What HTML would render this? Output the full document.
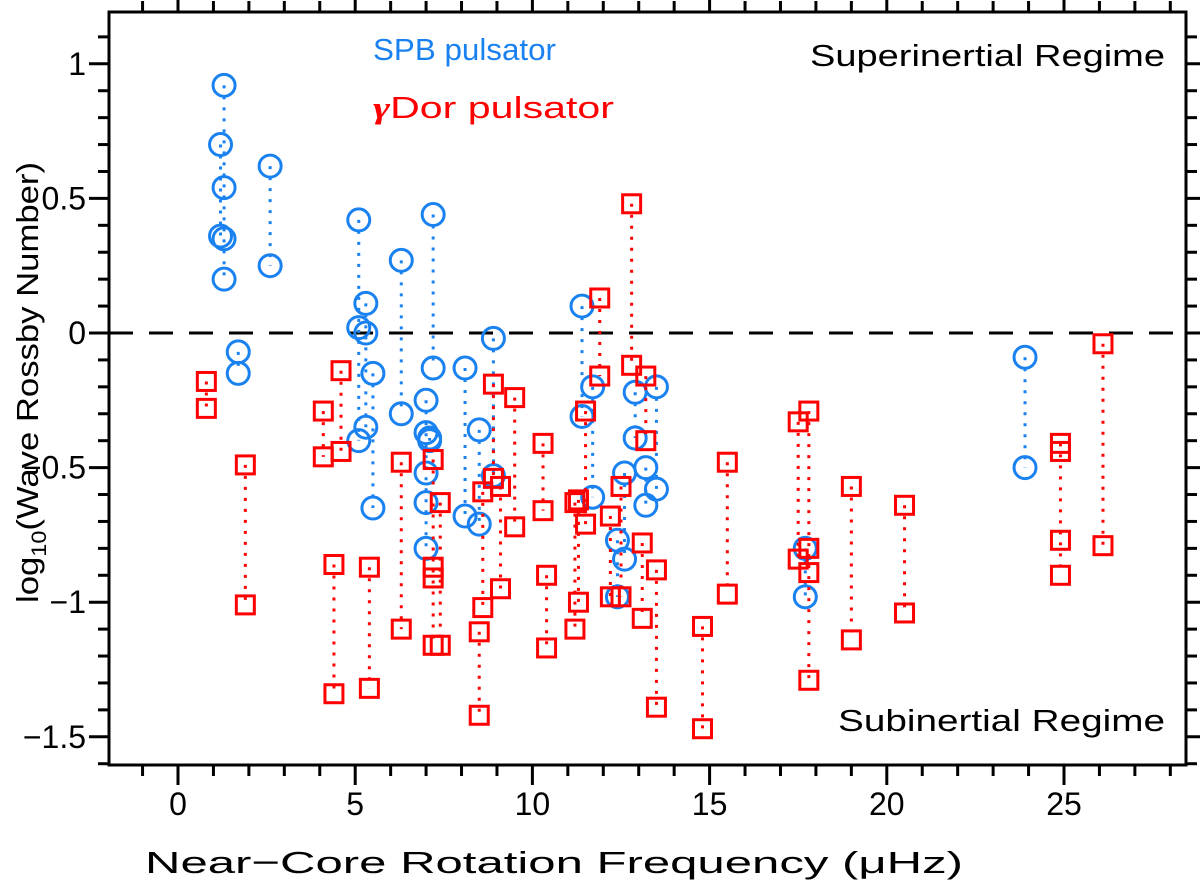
<!DOCTYPE html>
<html><head><meta charset="utf-8">
<style>
html,body{margin:0;padding:0;background:#fff;}
svg{display:block;font-family:"Liberation Sans",sans-serif;}
</style></head>
<body>
<svg id="chart" width="1200" height="891" viewBox="0 0 1200 891" xmlns="http://www.w3.org/2000/svg">
<g id="grid"></g>
<g id="series"></g>
<g id="axes"></g>
<text x="373" y="60" font-size="31" fill="#1a82f0" textLength="183" lengthAdjust="spacingAndGlyphs">SPB pulsator</text>
<text x="373" y="118" font-size="31" fill="#ff0000" textLength="241" lengthAdjust="spacingAndGlyphs"><tspan font-style="italic" font-weight="bold" font-family="Liberation Serif, serif">γ</tspan>Dor pulsator</text>
<text x="1165" y="66" font-size="31" text-anchor="end" fill="#000" textLength="355" lengthAdjust="spacingAndGlyphs">Superinertial Regime</text>
<text x="1165" y="731" font-size="31" text-anchor="end" fill="#000" textLength="327" lengthAdjust="spacingAndGlyphs">Subinertial Regime</text>
<text x="145" y="873" font-size="31" textLength="818" lengthAdjust="spacingAndGlyphs">Near−Core Rotation Frequency (μHz)</text>
<text transform="translate(38,603) rotate(-90)" font-size="31" textLength="441" lengthAdjust="spacingAndGlyphs">log<tspan font-size="21" dy="8">10</tspan><tspan dy="-8">(Wave Rossby Number)</tspan></text>
</svg>
<script>
const spbX = [1.3, 1.2, 2.6, 1.7, 5.1, 5.3, 5.5, 6.3, 7.2, 7.0, 7.1, 8.1, 8.5, 8.9, 11.4, 11.7, 12.9, 13.2, 13.5, 12.6, 12.4, 17.7, 23.9];
const spbY = [[0.92,0.54,0.35,0.20],[0.70,0.36],[0.62,0.25],[-0.07,-0.15],[0.42,0.02,-0.40],[0.11,0.0,-0.35],[-0.15,-0.65],[0.27,-0.30],[0.44,-0.13],[-0.25,-0.37,-0.52,-0.63,-0.80],[-0.39,-0.40],[-0.13,-0.68],[-0.36,-0.71],[-0.02,-0.53],[0.10,-0.31],[-0.20,-0.61],[-0.22,-0.39],[-0.50,-0.64],[-0.20,-0.58],[-0.52,-0.84],[-0.77,-0.98],[-0.80,-0.98],[-0.09,-0.50]];
const gdorX = [0.8, 1.9, 4.1, 4.6, 4.4, 5.4, 6.3, 7.2, 7.4, 8.6, 8.5, 8.9, 9.1, 9.5, 10.3, 10.4, 11.2, 11.3, 11.5, 11.9, 12.2, 12.5, 12.8, 13.1, 13.2, 13.5, 14.8, 15.5, 17.5, 17.8, 19.0, 20.5, 24.9, 26.1];
const gdorY = [[-0.18,-0.28],[-0.49,-1.01],[-0.29,-0.46],[-0.14,-0.44],[-0.86,-1.34],[-0.87,-1.32],[-0.48,-1.10],[-0.47,-0.87,-0.91,-1.16],[-0.63,-1.16],[-0.59,-1.02],[-1.11,-1.42],[-0.19,-0.54],[-0.57,-0.95],[-0.24,-0.72],[-0.41,-0.66],[-0.90,-1.17],[-0.63,-1.10],[-0.62,-1.00],[-0.29,-0.71],[0.13,-0.16],[-0.68,-0.98],[-0.57,-0.98],[0.48,-0.12],[-0.78,-1.06],[-0.16,-0.40],[-0.88,-1.39],[-1.09,-1.47],[-0.48,-0.97],[-0.33,-0.84],[-0.29,-0.80,-0.89,-1.29],[-0.57,-1.14],[-0.64,-1.04],[-0.41,-0.44,-0.77,-0.90],[-0.04,-0.79]];
const xTicks = [0,5,10,15,20,25];
const yTicks = [1,0.5,0,-0.5,-1,-1.5];
const yTickLabels = ["1","0.5","0","−0.5","−1","−1.5"];

const L=109,R=1186,T=12,B=765;
const sx = v => 178 + v*35.44;
const sy = v => 333 - v*269.2;
const NS='http://www.w3.org/2000/svg';
function mk(tag,attrs,parent){const e=document.createElementNS(NS,tag);for(const k in attrs)e.setAttribute(k,attrs[k]);parent.appendChild(e);return e;}
const axes=document.getElementById('axes'), series=document.getElementById('series'), grid=document.getElementById('grid');

const zl=mk('line',{x1:L,x2:R,y1:sy(0),y2:sy(0),stroke:'#000','stroke-width':3,'stroke-dasharray':'24,16'},grid);



function drawSeries(xs,ys,color,kind){
  xs.forEach((x,i)=>{
    const vals=ys[i];
    const ln=mk('line',{x1:sx(x),x2:sx(x),y1:sy(Math.max(...vals)),y2:sy(Math.min(...vals)),stroke:color,'stroke-width':3,'stroke-dasharray':'3,8'},series);
    
    
    vals.forEach(v=>{
      let m;
      if(kind==='spb'){m=mk('circle',{cx:sx(x),cy:sy(v),r:11,fill:'none',stroke:color,'stroke-width':3},series);}
      else{m=mk('rect',{x:sx(x)-9,y:sy(v)-9,width:18,height:18,fill:'none',stroke:color,'stroke-width':3},series);}
      
      
    });
  });
}
drawSeries(spbX,spbY,'#1a82f0','spb');
drawSeries(gdorX,gdorY,'#ff0000','gdor');

const frame=mk('rect',{x:L,y:T,width:R-L,height:B-T,fill:'none',stroke:'#000','stroke-width':3},axes);



for(let v=-1;v<=28;v++){
  const major=v%5===0, len=major?20:11;
  const t1=mk('line',{x1:sx(v),x2:sx(v),y1:B,y2:B+len,stroke:'#000','stroke-width':3},axes);
  
  
  const t2=mk('line',{x1:sx(v),x2:sx(v),y1:T,y2:T-len,stroke:'#000','stroke-width':3},axes);
  
  
}
xTicks.forEach(v=>{
  const t=mk('text',{x:sx(v),y:815,'font-size':32,'text-anchor':'middle'},axes);
  t.textContent=String(v);
  
  
});
for(let k=-16;k<=11;k++){
  const v=k/10, major=k%5===0, len=major?20:11;
  const t1=mk('line',{x1:L,x2:L-len,y1:sy(v),y2:sy(v),stroke:'#000','stroke-width':3},axes);
  
  
  const t2=mk('line',{x1:R,x2:R+len,y1:sy(v),y2:sy(v),stroke:'#000','stroke-width':3},axes);
  
  
}
yTicks.forEach((v,i)=>{
  const t=mk('text',{x:86,y:sy(v)+11,'font-size':32,'text-anchor':'end'},axes);
  t.textContent=yTickLabels[i];
  
  
});
</script>
</body></html>
